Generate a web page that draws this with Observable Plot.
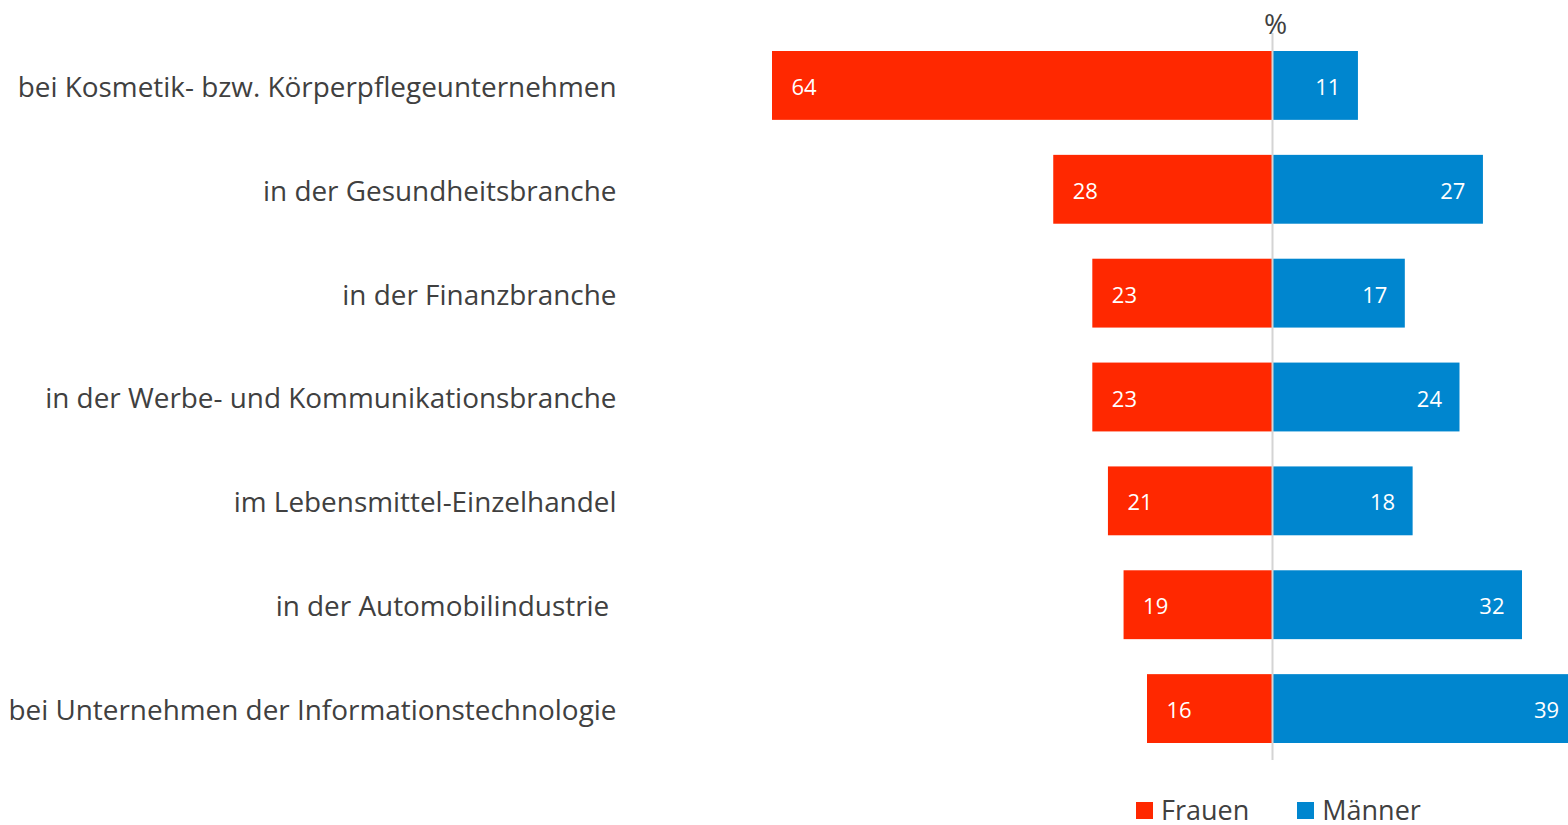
<!DOCTYPE html>
<html>
<head>
<meta charset="utf-8">
<script src="https://cdn.jsdelivr.net/npm/d3@7"></script>
<script src="https://cdn.jsdelivr.net/npm/@observablehq/plot@0.6"></script>
<style>
  html, body { margin: 0; padding: 0; background: #fff; overflow: hidden; }
  body { width: 1568px; height: 825px; font-family: "Open Sans", sans-serif; position: relative; }
  #chart svg { display: block; overflow: hidden; }
  .legend { position: absolute; left: 1136px; top: 796px; height: 28px; line-height: 28px; display: flex; align-items: center; font-size: 27px; color: #404040; }
  .legend .item { display: flex; align-items: center; margin-right: 48px; }
  .legend .sw { width: 17px; height: 17px; margin-right: 8px; }
</style>
</head>
<body>
<div id="chart"></div>
<script>
const categories = [
  "bei Kosmetik- bzw. Körperpflegeunternehmen",
  "in der Gesundheitsbranche",
  "in der Finanzbranche",
  "in der Werbe- und Kommunikationsbranche",
  "im Lebensmittel-Einzelhandel",
  "in der Automobilindustrie\u00a0",
  "bei Unternehmen der Informationstechnologie"
];
const frauen = [64, 28, 23, 23, 21, 19, 16];
const maenner = [11, 27, 17, 24, 18, 32, 39];
const seriesNames = ["Frauen", "Männer"];
const colors = ["#ff2800", "#0086cf"];

const fRows = categories.map((c, i) => ({category: c, value: frauen[i]}));
const mRows = categories.map((c, i) => ({category: c, value: maenner[i]}));

const chart = Plot.plot({
  width: 1568,
  height: 778,
  marginLeft: 772,
  marginRight: 0,
  marginTop: 16,
  marginBottom: 0,
  style: {fontFamily: "Open Sans, sans-serif", color: "#404040", background: "#fff"},
  x: {domain: [-64, 296 / (500 / 64)], axis: null},
  y: {domain: categories, padding: 0.337, round: false, label: null},
  marks: [
    Plot.barX(fRows, {y: "category", x1: 0, x2: d => -d.value, fill: colors[0]}),
    Plot.barX(mRows, {y: "category", x1: 0, x2: "value", fill: colors[1]}),
    Plot.ruleX([0], {stroke: "#d4d4d4", strokeWidth: 2, insetTop: 17, insetBottom: 18}),
    Plot.text(fRows, {y: "category", x: d => -d.value, text: d => String(d.value), textAnchor: "start", dx: 19, dy: 2, fill: "#fff", fontSize: 22}),
    Plot.text(mRows, {y: "category", x: "value", text: d => String(d.value), textAnchor: "end", dx: -18, dy: 2, fill: "#fff", fontSize: 22}),
    Plot.text(["%"], {x: 0, frameAnchor: "top", text: d => d, dx: 3, dy: -2, fontSize: 28, fill: "#404040"}),
    Plot.axisY({tickSize: 0, tickPadding: 156, fontSize: 27.9, dy: 2, fill: "#404040", label: null})
  ]
});
document.getElementById("chart").appendChild(chart);

const legend = document.createElement("div");
legend.className = "legend";
seriesNames.forEach((name, i) => {
  const item = document.createElement("div");
  item.className = "item";
  const sw = document.createElement("span");
  sw.className = "sw";
  sw.style.background = colors[i];
  const t = document.createElement("span");
  t.textContent = name;
  item.appendChild(sw);
  item.appendChild(t);
  legend.appendChild(item);
});
document.body.appendChild(legend);
</script>
</body>
</html>
